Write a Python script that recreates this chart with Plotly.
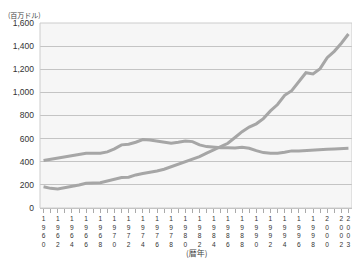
import plotly.graph_objects as go

years = list(range(1960, 2004))
series_a = [410, 420, 433, 443, 453, 464, 474, 474, 474, 485, 511, 546, 552, 569, 592,
            589, 580, 565, 560, 569, 580, 574, 546, 531, 525, 522, 522, 520, 525, 517,
            496, 479, 474, 474, 482, 494, 494, 496, 502, 502, 508, 511, 514, 517]
series_b = [184, 170, 165, 176, 184, 199, 214, 219, 219, 234, 248, 263, 266, 286, 298,
            306, 320, 335, 358, 378, 401, 422, 444, 474, 502, 531, 560, 610, 660, 700,
            728, 773, 840, 895, 975, 1015, 1090, 1170, 1160, 1205, 1300, 1355, 1425, 1505]
tick_years = years
tick_labels = [("<br>".join(str(y)) if (y % 2 == 0 or y == 2003) else "") for y in years]
y_ticks = [0, 200, 400, 600, 800, 1000, 1200, 1400, 1600]

line_color = "#a6a6a6"
fig = go.Figure()
fig.add_trace(go.Scatter(x=years, y=series_a, mode="lines",
                         line=dict(color=line_color, width=3), hoverinfo="skip"))
fig.add_trace(go.Scatter(x=years, y=series_b, mode="lines",
                         line=dict(color=line_color, width=3), hoverinfo="skip"))

fig.update_layout(
    width=352, height=253,
    margin=dict(l=32, r=8, t=15, b=53),
    paper_bgcolor="white", plot_bgcolor="#f6f6f6",
    showlegend=False,
    font=dict(family="Liberation Sans, Arial, sans-serif", color="#333333", size=8),
    xaxis=dict(range=[1959.5, 2003.5], tickmode="array", tickvals=tick_years,
               ticktext=tick_labels, ticks="outside", ticklen=4, tickcolor="#aaaaaa",
               showgrid=False, showline=True, linecolor="#bbbbbb", mirror=False,
               tickfont=dict(size=6.6, color="#333333"), tickangle=0, zeroline=False,
               automargin=False, ticklabelstandoff=0),
    yaxis=dict(range=[0, 1600], tickmode="array", tickvals=y_ticks,
               ticktext=[f"{v:,}" for v in y_ticks], showgrid=True,
               gridcolor="#c4c4c4", gridwidth=1, zeroline=False, showline=False,
               ticks="", ticklabelstandoff=5, automargin=False,
               tickfont=dict(size=8.5, color="#333333")),
    shapes=[dict(type="rect", xref="paper", yref="paper", x0=0, x1=1, y0=0, y1=1,
                 line=dict(color="#cccccc", width=1), fillcolor="rgba(0,0,0,0)")],
    annotations=[
        dict(text="(百万ドル)", xref="paper", yref="paper", x=-0.11, y=1.081,
             xanchor="left", yanchor="top", showarrow=False,
             font=dict(size=7, color="#444444",
                       family="Noto Sans CJK JP, sans-serif")),
        dict(text="(暦年)", xref="paper", yref="paper", x=0.503, y=-0.238,
             xanchor="center", yanchor="middle", showarrow=False,
             font=dict(size=8, color="#444444",
                       family="Noto Sans CJK JP, sans-serif")),
    ],
)

fig.write_html("out.html")
